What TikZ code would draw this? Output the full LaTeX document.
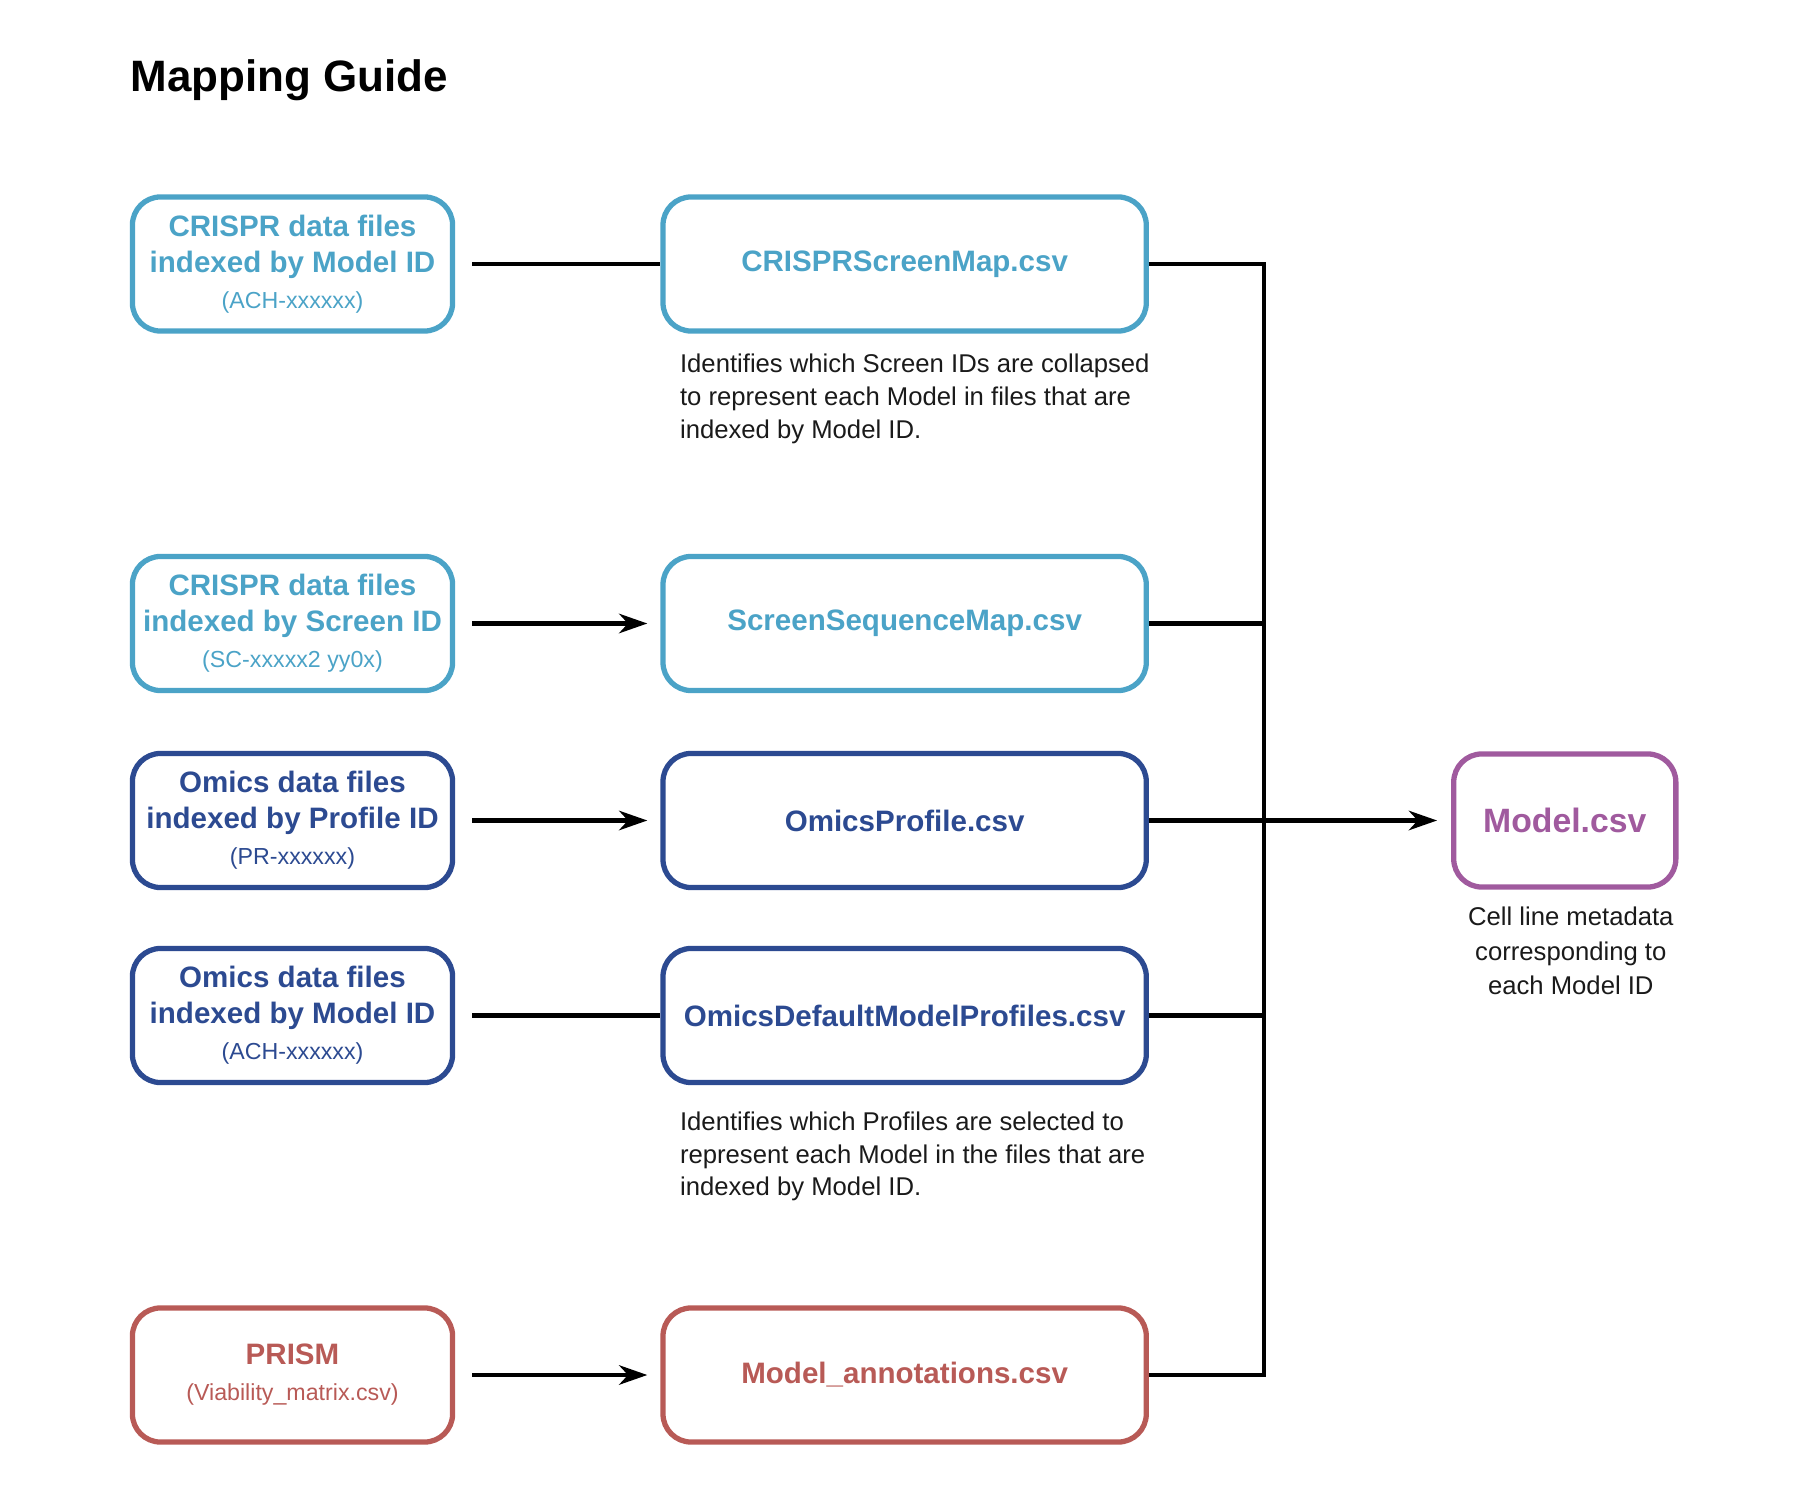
\documentclass[tikz,border=0pt]{standalone}
\usepackage{fontspec}
\setmainfont{Liberation Sans}
\usepackage{tikz}
\usetikzlibrary{positioning,arrows.meta}

\definecolor{crisprblue}{HTML}{4BA3C7}
\definecolor{omicsblue}{HTML}{2C4A91}
\definecolor{prismred}{HTML}{B85A56}
\definecolor{modelpurple}{HTML}{A05A9E}
\definecolor{notegray}{HTML}{1A1A1A}

\newcommand{\idtxt}[1]{{\fontsize{6.6}{10.2}\selectfont\mdseries #1}}

\begin{document}
\begin{tikzpicture}[x=0.01cm, y=-0.01cm,
    >={Stealth[length=8pt,width=5.5pt,inset=2.5pt]},
    node distance=2.05cm,
    box/.style={draw=#1, text=#1, line width=1.5pt, rounded corners=8pt,
                align=center, inner sep=2pt,
                font=\fontsize{8.4}{10.2}\selectfont\bfseries},
    lbox/.style={box=#1, minimum width=3.20cm, minimum height=1.34cm},
    mbox/.style={box=#1, minimum width=4.83cm, minimum height=1.34cm},
    note/.style={text=notegray, align=left, inner sep=0pt,
                 font=\fontsize{7.3}{9.3}\selectfont},
    link/.style={line width=1.4pt}]

  \useasboundingbox (0,0) rectangle (1804,1498);

  %--- Title
  \node[anchor=base west, inner sep=0pt, font=\fontsize{12.5}{15}\selectfont\bfseries]
    (title) at (130,92) {Mapping Guide};

  %--- Source data files
  \node[lbox=crisprblue] (crispr) at (292.5,264)
    {CRISPR data files\\indexed by Model ID\\\idtxt{(ACH-xxxxxx)}};
  \node[lbox=crisprblue] (screen) at (292.5,623.5)
    {CRISPR data files\\indexed by Screen ID\\\idtxt{(SC-xxxxx2 yy0x)}};
  \node[lbox=omicsblue] (omicsP) at (292.5,820.5)
    {Omics data files\\indexed by Profile ID\\\idtxt{(PR-xxxxxx)}};
  \node[lbox=omicsblue] (omicsM) at (292.5,1015.5)
    {Omics data files\\indexed by Model ID\\\idtxt{(ACH-xxxxxx)}};
  \node[lbox=prismred] (prism) at (292.5,1375)
    {PRISM\\\idtxt{(Viability\_matrix.csv)}};

  %--- Mapping files
  \node[mbox=crisprblue, right=of crispr] (scrmap) {CRISPRScreenMap.csv};
  \node[mbox=crisprblue, right=of screen] (seqmap) {ScreenSequenceMap.csv};
  \node[mbox=omicsblue, right=of omicsP] (profile) {OmicsProfile.csv};
  \node[mbox=omicsblue, right=of omicsM] (defprof) {OmicsDefaultModelProfiles.csv};
  \node[mbox=prismred, right=of prism] (annot) {Model\_annotations.csv};

  %--- Model table
  \node[box=modelpurple, minimum width=2.22cm, minimum height=1.33cm,
        font=\fontsize{9.6}{11}\selectfont\bfseries, right=3.02cm of profile] (model) {Model.csv};

  %--- Notes
  \node[note, anchor=north west] (note1) at ([xshift=0.19cm, yshift=-0.20cm]scrmap.south west)
    {Identifies which Screen IDs are collapsed\\to represent each Model in files that are\\indexed by Model ID.};
  \node[note, anchor=north west] (note2) at ([xshift=0.19cm, yshift=-0.26cm]defprof.south west)
    {Identifies which Profiles are selected to\\represent each Model in the files that are\\indexed by Model ID.};
  \node[note, align=center, font=\fontsize{7.3}{9.7}\selectfont, below=0.17cm of model, xshift=0.06cm]
    (note3) {Cell line metadata\\corresponding to\\each Model ID};

  %--- Connectors
  \coordinate (bus) at (1264,0);
  \draw[link, shorten <=0.17cm] (crispr.east) -- (scrmap.west);
  \draw[link, ->, shorten <=0.17cm, shorten >=0.13cm] (screen.east) -- (seqmap.west);
  \draw[link, ->, shorten <=0.17cm, shorten >=0.13cm] (omicsP.east) -- (profile.west);
  \draw[link, shorten <=0.17cm] (omicsM.east) -- (defprof.west);
  \draw[link, ->, shorten <=0.17cm, shorten >=0.13cm] (prism.east) -- (annot.west);

  \draw[link] (scrmap.east) -| (bus |- annot.east) -- (annot.east);
  \draw[link] (seqmap.east) -- (bus |- seqmap.east);
  \draw[link] (defprof.east) -- (bus |- defprof.east);
  \draw[link, ->, shorten >=0.14cm] (profile.east) -- (model.west);

\end{tikzpicture}
\end{document}
